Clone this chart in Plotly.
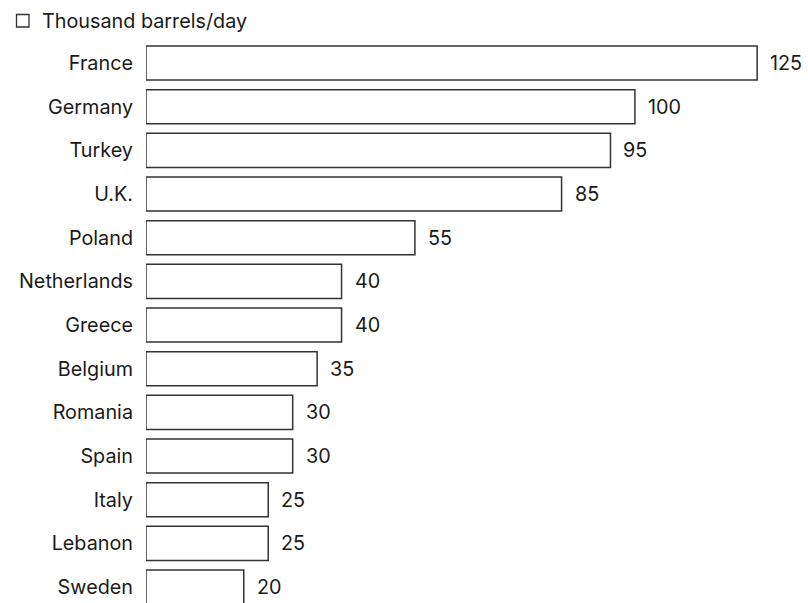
import plotly.graph_objects as go

countries = ["France", "Germany", "Turkey", "U.K.", "Poland", "Netherlands", "Greece",
             "Belgium", "Romania", "Spain", "Italy", "Lebanon", "Sweden"]
values = [125, 100, 95, 85, 55, 40, 40, 35, 30, 30, 25, 25, 20]
series_name = "Thousand barrels/day"

FONT = "Inter"
FS = 19.8
TXT = "#1a1a1a"
EDGE = "#333333"

W, H = 808, 603
ML, MT = 146, 40
PW, PH = W - ML, H - MT

def px_x(x):
    return (x - ML) / PW

def px_y(y):
    return (H - y) / PH

fig = go.Figure()
fig.add_trace(go.Bar(
    x=values, y=countries, orientation="h", name=series_name,
    marker=dict(color="white", line=dict(color=EDGE, width=1.5)),
    width=0.78, showlegend=False, hoverinfo="x+y",
))

for c, v in zip(countries, values):
    fig.add_annotation(x=v, y=c, text=str(v), showarrow=False, xanchor="left",
                       xshift=11, font=dict(family=FONT, size=FS, color=TXT))

# key: outlined square + series name
fig.add_shape(type="rect", xref="paper", yref="paper",
              x0=px_x(16.5), x1=px_x(29), y0=px_y(27), y1=px_y(14.5),
              line=dict(color=EDGE, width=1.3), fillcolor="white")
fig.add_annotation(xref="paper", yref="paper", x=px_x(40), y=px_y(20.5),
                   text=series_name, showarrow=False, xanchor="left", yanchor="middle",
                   font=dict(family=FONT, size=FS, color=TXT))

fig.update_layout(
    width=W, height=H,
    margin=dict(l=ML, r=0, t=MT, b=0, autoexpand=False),
    plot_bgcolor="white", paper_bgcolor="white",
    font=dict(family=FONT, size=FS, color=TXT),
    showlegend=False,
    xaxis=dict(range=[0, 135.4], visible=False, showgrid=False, zeroline=False),
    yaxis=dict(categoryorder="array", categoryarray=countries, automargin=False,
               range=[12.365, -0.527], showgrid=False, zeroline=False,
               showline=False, ticks="", ticklabelstandoff=12),
)

fig.write_html("out.html")
